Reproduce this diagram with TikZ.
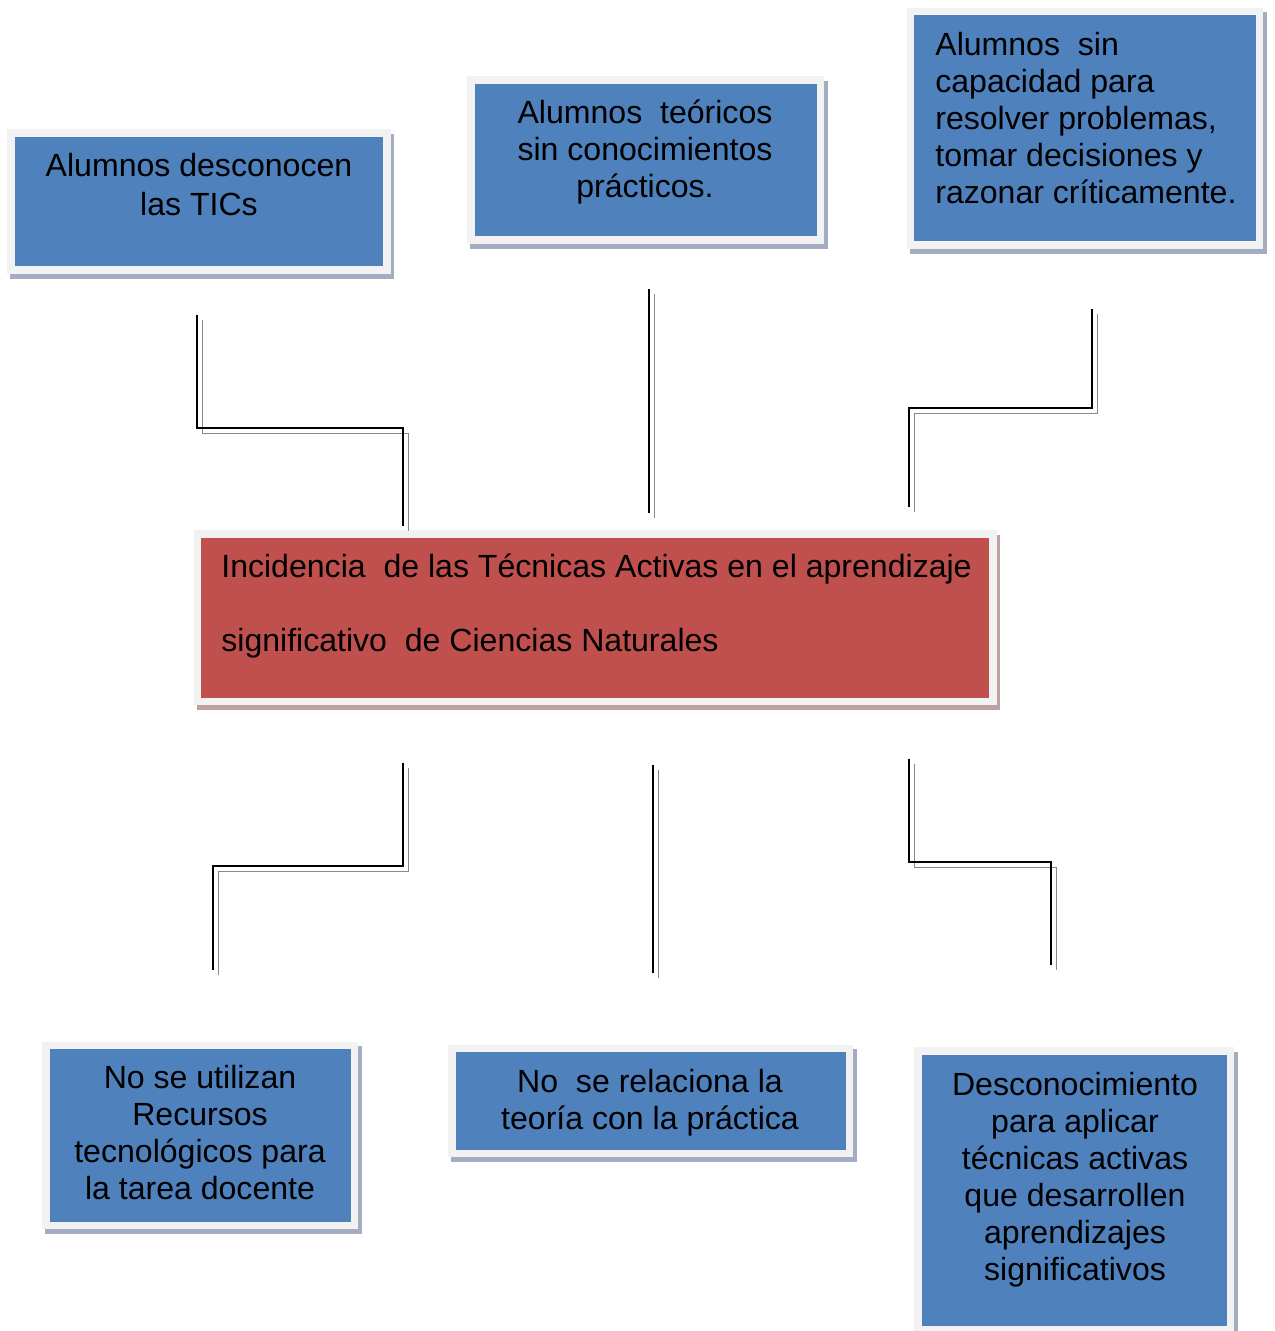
\documentclass[tikz,border=0pt]{standalone}
\usepackage{fontspec}
\setmainfont{Liberation Sans}
\usepackage{tikz}
\usetikzlibrary{fit}

\definecolor{bluefill}{HTML}{4F81BD}
\definecolor{blueshade}{HTML}{A2ADC1}
\definecolor{redfill}{HTML}{C0504D}
\definecolor{redshade}{HTML}{BFA0A0}
\definecolor{boxframe}{HTML}{F2F2F2}
\definecolor{lineshade}{HTML}{8A8A8A}

\tikzset{
  panel/.style={draw=boxframe, line width=4.5pt, inner sep=0pt, fill=#1fill,
    preaction={draw=#1shade, fill=#1shade, transform canvas={shift={(1.8pt,-2.8pt)}}}},
  label/.style={inner sep=0pt, align=center, font=\fontsize{18.25}{21}\selectfont},
  link/.style={line width=1.3pt, line join=miter,
    preaction={draw=lineshade, transform canvas={shift={(3.1pt,-3.1pt)}}}}
}

\begin{document}
\begin{tikzpicture}[x=0.02cm,y=-0.02cm]
        \useasboundingbox (0,0) rectangle (1274,1331);
        % upper row
        \node[panel=blue, fit={(11,133) (387,270)}] (tics) {};
        \node[panel=blue, fit={(471,80) (820.5,240)}] (teoricos) {};
        \node[panel=blue, fit={(910.5,11.5) (1259.5,245)}] (capacidad) {};
        \node[label, font=\fontsize{18.25}{22}\selectfont, anchor=north] (ttics) at (199,153)
          {Alumnos desconocen\\las TICs};
        \node[label, anchor=north] (tteoricos) at (645,100)
          {Alumnos~ teóricos\\sin conocimientos\\prácticos.};
        \node[label, align=left, anchor=north west] (tcapacidad) at (935,32)
          {Alumnos~ sin\\capacidad para\\resolver problemas,\\tomar decisiones y\\razonar críticamente.};
        % problem
        \node[panel=red, fit={(197.5,534) (993,701.5)}] (incidencia) {};
        \node[label, align=left, anchor=north west, font=\fontsize{18.25}{42}\selectfont] (tincidencia) at (221,554)
          {Incidencia~ de las Técnicas Activas en el aprendizaje\\significativo~ de Ciencias Naturales};
        % lower row
        \node[panel=blue, fit={(46,1045.5) (354.5,1225.5)}] (recursos) {};
        \node[panel=blue, fit={(452,1048.5) (849.5,1153.5)}] (practica) {};
        \node[panel=blue, fit={(918,1051) (1230.5,1330)}] (tecnicas) {};
        \node[label, anchor=north] (trecursos) at (200,1065)
          {No se utilizan\\Recursos\\tecnológicos para\\la tarea docente};
        \node[label, anchor=north] (tpractica) at (650,1069)
          {No~ se relaciona la\\teoría con la práctica};
        \node[label, anchor=north] (ttecnicas) at (1075,1072)
          {Desconocimiento\\para aplicar\\técnicas activas\\que desarrollen\\aprendizajes\\significativos};
        % connectors above
        \coordinate (u1) at (197,315);  \coordinate (k1) at (403,428);  \coordinate (v1) at (403,526);
        \coordinate (u2) at (649,289);  \coordinate (v2) at (649,513);
        \coordinate (u3) at (1092,309); \coordinate (k3) at (909,408);  \coordinate (v3) at (909,507);
        \draw[link] (u1) |- (k1) -- (v1);
        \draw[link] (u2) -- (v2);
        \draw[link] (u3) |- (k3) -- (v3);
        % connectors below
        \coordinate (d1) at (403,763);  \coordinate (m1) at (213,866);  \coordinate (e1) at (213,970);
        \coordinate (d2) at (653,765);  \coordinate (e2) at (653,973);
        \coordinate (d3) at (909,759);  \coordinate (m3) at (1051,862); \coordinate (e3) at (1051,965);
        \draw[link] (d1) |- (m1) -- (e1);
        \draw[link] (d2) -- (e2);
        \draw[link] (d3) |- (m3) -- (e3);
\end{tikzpicture}
\end{document}
